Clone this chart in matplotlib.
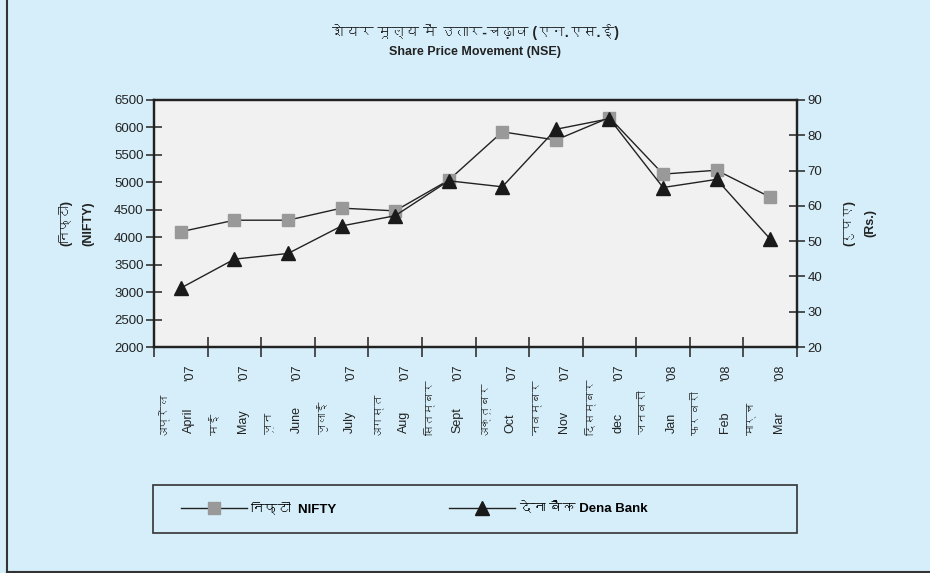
import matplotlib
matplotlib.use('Agg')
import matplotlib.pyplot as plt
import matplotlib.transforms as mtransforms
from matplotlib import font_manager
from matplotlib.lines import Line2D
from matplotlib.patches import Rectangle

# data
months_hi = ['अप्रैल', 'मई', 'जून', 'जुलाई', 'अगस्त', 'सितम्बर', 'अक्तूबर',
             'नवम्बर', 'दिसम्बर', 'जनवरी', 'फरवरी', 'मार्च']
months_en = ['April', 'May', 'June', 'July', 'Aug', 'Sept', 'Oct',
             'Nov', 'dec', 'Jan', 'Feb', 'Mar']
years = ["'07"] * 9 + ["'08"] * 3
nifty = [4100, 4310, 4310, 4530, 4480, 5040, 5920, 5770, 6180, 5150, 5220, 4730]
dena_bank = [36.7, 44.9, 46.5, 54.3, 57.2, 67.1, 65.4, 81.7, 84.7, 65.2, 67.5, 50.6]


def find_devanagari_font():
    # look for any installed font that has Devanagari glyphs
    try:
        from fontTools.ttLib import TTFont
    except ImportError:
        return None
    for f in font_manager.fontManager.ttflist:
        try:
            cmap = TTFont(f.fname, fontNumber=0, lazy=True).getBestCmap()
        except Exception:
            continue
        if cmap and 0x0915 in cmap:
            return f.name
    return None


deva = find_devanagari_font()
families = ['Liberation Sans'] + ([deva] if deva else []) + ['DejaVu Sans']
plt.rcParams['font.family'] = families

bg = '#d5eef9'
dark = '#222222'

fig = plt.figure(figsize=(9.3, 5.73), dpi=100, facecolor=bg)
# left and bottom edge lines of the outer frame
fig.add_artist(Line2D([0.0075, 0.0075], [0.002, 1.0], transform=fig.transFigure,
                      color='#333333', linewidth=1.5))
fig.add_artist(Line2D([0.0075, 1.0], [0.002, 0.002], transform=fig.transFigure,
                      color='#333333', linewidth=1.5))

ax = fig.add_axes([0.1656, 0.3944, 0.6914, 0.4311])
ax.set_facecolor('#f1f1f1')
x = list(range(len(months_en)))

ax.plot(x, nifty, color=dark, linewidth=1, marker='s', markersize=8,
        markerfacecolor='#999999', markeredgecolor='#999999', label='निफ्टी  NIFTY')
ax.set_ylim(2000, 6500)
ax.set_yticks(range(2000, 6501, 500))
ax.set_xlim(-0.5, len(x) - 0.5)
ax.set_xticks([i - 0.5 for i in range(len(x) + 1)])
ax.set_xticklabels([])

ax2 = ax.twinx()
ax2.plot(x, dena_bank, color=dark, linewidth=1, marker='^', markersize=10,
         markerfacecolor='#1a1a1a', markeredgecolor='#1a1a1a', label='देना बैंक Dena Bank')
ax2.set_ylim(20, 90)
ax2.set_yticks(range(20, 91, 10))

for a in (ax, ax2):
    for s in a.spines.values():
        s.set_color(dark)
        s.set_linewidth(1.6)
    a.tick_params(axis='both', direction='inout', length=11, width=1.2,
                  color='#333333', labelsize=9.5, labelcolor='#222222', pad=2)
ax.tick_params(axis='x', length=15)

# month labels: Hindi and English rotated side by side, year near the axis
trans = mtransforms.blended_transform_factory(ax.transData, ax.transAxes)
for i in x:
    ax.text(i - 0.36, -0.356, months_hi[i], transform=trans, rotation=90,
            ha='center', va='bottom', fontsize=8, color='#222222')
    ax.text(i + 0.16, -0.348, months_en[i], transform=trans, rotation=90,
            ha='center', va='bottom', fontsize=9, color='#222222')
    ax.text(i + 0.18, -0.07, years[i], transform=trans, rotation=90,
            ha='center', va='top', fontsize=9, color='#222222')

ax.set_ylabel('(निफ्टी)\n(NIFTY)', fontsize=9, fontweight='bold', labelpad=14,
              color='#222222', linespacing=2.1)
ax2.set_ylabel('(रुपए)\n(Rs.)', fontsize=9, fontweight='bold', labelpad=15,
               rotation=90, color='#222222', linespacing=2.0)

fig.text(0.511, 0.944, 'शेयर मूल्य में उतार-चढ़ाव (एन.एस.ई)', ha='center', va='center',
         fontsize=10, fontweight='bold', color='#222222')
fig.text(0.511, 0.909, 'Share Price Movement (NSE)', ha='center', va='center',
         fontsize=9, fontweight='bold', color='#222222')

# legend box drawn as its own frame, entries placed inside it
fig.add_artist(Rectangle((0.1645, 0.070), 0.6925, 0.0836, transform=fig.transFigure,
                         facecolor='none', edgecolor='#333333', linewidth=1.2))
h1, l1 = ax.get_legend_handles_labels()
h2, l2 = ax2.get_legend_handles_labels()
leg = fig.legend(h1 + h2, l1 + l2, loc='center left', bbox_to_anchor=(0.188, 0.112),
                 ncol=2, frameon=False, handlelength=5, handletextpad=0.3,
                 columnspacing=8.5, borderpad=0,
                 prop={'weight': 'bold', 'size': 9.5})

fig.savefig('out.png', dpi=100, facecolor=bg)
